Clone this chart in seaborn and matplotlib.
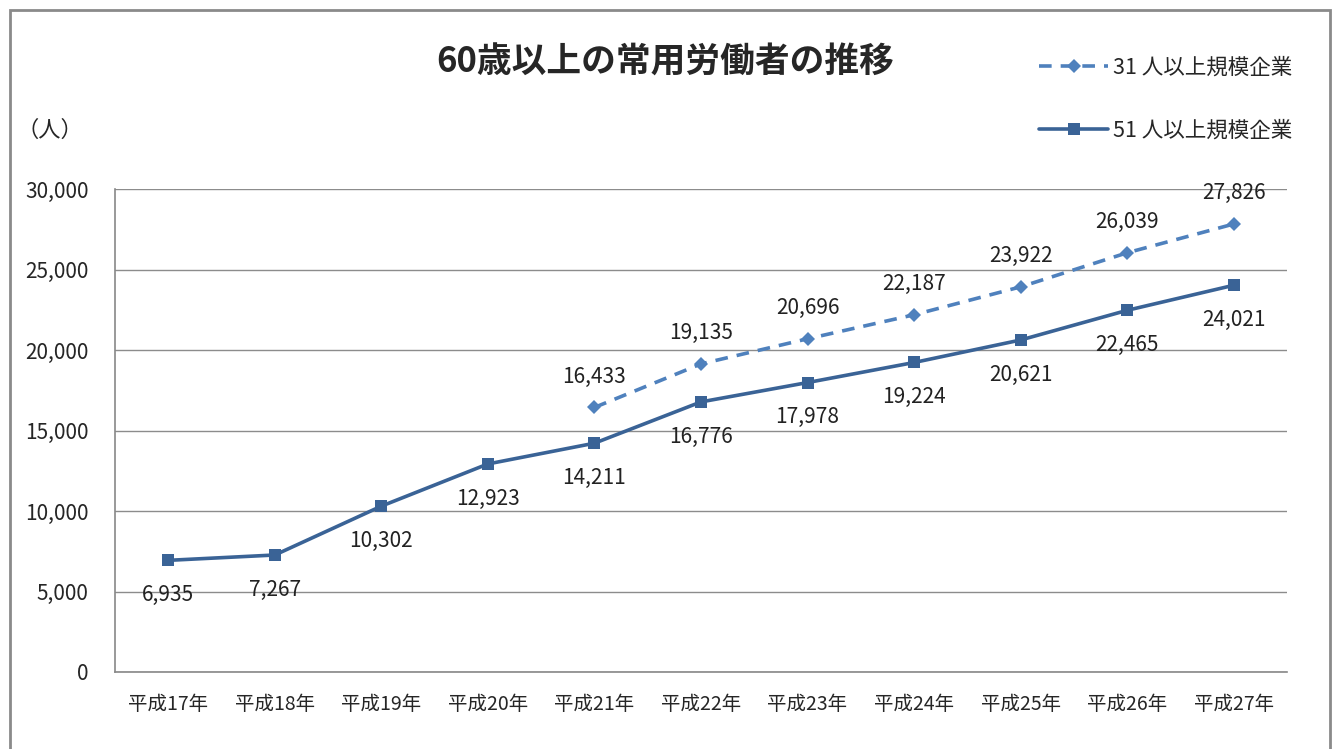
import pandas as pd
import numpy as np
from matplotlib import pyplot as plt
from matplotlib.patches import Rectangle
import seaborn as sns

years = ["平成17年", "平成18年", "平成19年", "平成20年", "平成21年", "平成22年",
         "平成23年", "平成24年", "平成25年", "平成26年", "平成27年"]
over51 = [6935, 7267, 10302, 12923, 14211, 16776, 17978, 19224, 20621, 22465, 24021]
over31 = [None, None, None, None, 16433, 19135, 20696, 22187, 23922, 26039, 27826]

sns.set_style("white")
plt.rcParams['font.family'] = ['Noto Sans CJK JP', 'DejaVu Sans']

df = pd.DataFrame({"pos": np.arange(len(years)), "year": years,
                   "s51": over51, "s31": over31})

fig = plt.figure(figsize=(13.35, 7.49), dpi=100)
ax = fig.add_axes([115 / 1335, 1 - 672 / 749, (1287 - 115) / 1335, (672 - 189) / 749])

c31 = "#4F81BD"
c51 = "#3A6396"
sns.lineplot(data=df, x="pos", y="s51", ax=ax, color=c51, lw=2.6, marker="s",
             markersize=9, markeredgewidth=0, label="51 人以上規模企業")
d31 = df.dropna(subset=["s31"])
sns.lineplot(data=d31, x="pos", y="s31", ax=ax, color=c31, lw=2.6, marker="D",
             markersize=7.5, markeredgewidth=0, label="31 人以上規模企業")
ax.lines[1].set_dashes((3.5, 2.5))

# data labels
for x, v in zip(df["pos"], df["s51"]):
    ax.annotate(f"{v:,}", (x, v), xytext=(0, -25), textcoords="offset points",
                ha="center", va="center", fontsize=15, color="#222222")
for x, v in zip(d31["pos"], d31["s31"]):
    ax.annotate(f"{int(v):,}", (x, v), xytext=(0, 22), textcoords="offset points",
                ha="center", va="center", fontsize=15, color="#222222")

ax.set_xlim(-0.5, len(years) - 0.5)
ax.set_ylim(0, 30000)
ax.set_yticks(np.arange(0, 30001, 5000))
ax.set_yticklabels([f"{t:,}" for t in range(0, 30001, 5000)], fontsize=15)
ax.set_xticks(np.arange(len(years)))
ax.set_xticklabels(years, fontsize=14)
ax.set_xticks(np.arange(-0.5, len(years), 1), minor=True)
ax.tick_params(axis="x", which="major", length=0, pad=16)
ax.tick_params(axis="x", which="minor", length=5, color="#888888", width=1.2, direction="out")
ax.tick_params(axis="y", length=5, color="#888888", width=1.2, direction="out", pad=14)
ax.set_xlabel("")
ax.set_ylabel("")
ax.yaxis.grid(True, color="#8c8c8c", lw=1)
ax.set_axisbelow(True)
for s in ["top", "right"]:
    ax.spines[s].set_visible(False)
for s in ["left", "bottom"]:
    ax.spines[s].set_color("#888888")
    ax.spines[s].set_linewidth(1.2)

ax.legend_.remove()
h, l = ax.get_legend_handles_labels()
fig.legend([h[1], h[0]], [l[1], l[0]], loc="upper left", bbox_to_anchor=(1020 / 1335, 1 - 37 / 749),
           frameon=False, fontsize=15.5, handlelength=3.2, labelspacing=1.93, handletextpad=0.2)

fig.text(665 / 1335, 1 - 62 / 749, "60歳以上の常用労働者の推移", ha="center", va="center",
         fontsize=25, fontweight="bold")
fig.text(50 / 1335, 1 - 130 / 749, "（人）", ha="center", va="center", fontsize=16)

fig.patches.append(Rectangle((10 / 1335, -0.05), 1320 / 1335, 1 - 10 / 749 + 0.05,
                             transform=fig.transFigure, fill=False, edgecolor="#8a8a8a", lw=2))

fig.savefig("out.png", dpi=100)
